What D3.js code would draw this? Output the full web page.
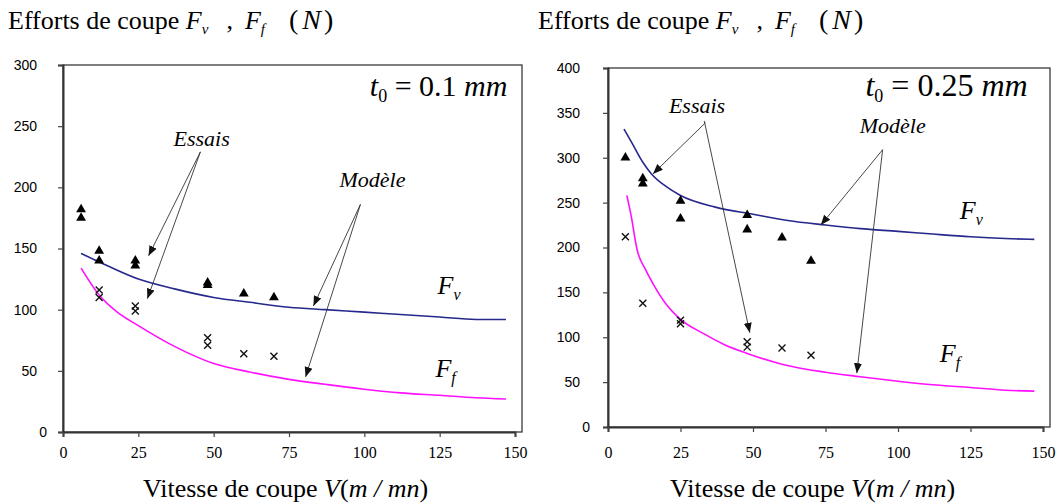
<!DOCTYPE html>
<html>
<head>
<meta charset="utf-8">
<script src="https://cdn.jsdelivr.net/npm/d3@7"></script>
<style>
body { margin: 0; background: #fff; }
svg text { font-family: "Liberation Serif", "Times New Roman", serif; fill: #000; }
</style>
</head>
<body>
<svg id="chart" width="1059" height="504"></svg>
<script>
// axes
var vTicks = [0, 25, 50, 75, 100, 125, 150];
var yTicks1 = [0, 50, 100, 150, 200, 250, 300];
var yTicks2 = [0, 50, 100, 150, 200, 250, 300, 350, 400];

// t0 = 0.1 mm : essais [V, F]
var fvEssais1 = [[6, 182], [6, 175], [12, 148], [12, 140], [24, 140], [24, 136], [48, 122], [48, 120], [60, 113], [70, 110]];
var ffEssais1 = [[12, 116], [12, 110], [24, 103], [24, 99], [48, 77], [48, 71], [60, 64], [70, 62]];
// t0 = 0.1 mm : modele
var fvModele1 = [[6, 146], [12, 139], [25, 125], [37, 117], [50, 110], [62, 106], [75, 102], [87, 100], [100, 98], [112, 96], [125, 94], [137, 92], [147, 92]];
var ffModele1 = [[6, 134], [12, 112], [18, 98], [25, 87], [37, 70], [50, 56], [62, 49], [75, 43], [87, 39], [100, 35], [112, 32], [125, 30], [137, 28], [147, 27]];

// t0 = 0.25 mm : essais
var fvEssais2 = [[6, 300], [12, 277], [12, 271], [25, 252], [25, 232], [48, 236], [48, 220], [60, 211], [70, 185]];
var ffEssais2 = [[6, 212], [12, 138], [25, 119], [25, 115], [48, 95], [48, 89], [60, 88], [70, 80]];
// t0 = 0.25 mm : modele
var fvModele2 = [[5.5, 332], [8, 318], [12, 295], [15, 282], [20, 268], [25, 258], [37, 245], [50, 237], [62, 230], [75, 225], [87, 221], [100, 218], [112, 215], [125, 212], [137, 210], [147, 209]];
var ffModele2 = [[6.5, 258], [8, 235], [10, 198], [13, 175], [16, 157], [20, 137], [25, 120], [33, 104], [40, 92], [48, 82], [60, 70], [75, 61], [87, 56], [100, 51], [112, 47], [125, 44], [137, 41], [147, 40]];

// annotations, in data units: [from V, from F, to V, to F]
var essaisArrows1 = [[45.6, 229, 28.4, 144], [45.6, 229, 28, 109]];
var modeleArrows1 = [[98.7, 186, 83.1, 103], [98.7, 186, 80.5, 45]];
var essaisArrows2 = [[33.6, 339, 15.5, 282], [33.2, 341, 48.9, 105]];
var modeleArrows2 = [[94.7, 309, 73.4, 225], [94.7, 309, 85.8, 60]];

var svg = d3.select('#chart');

svg.append('defs').append('marker')
    .attr('id', 'head')
    .attr('viewBox', '0 0 10 10')
    .attr('refX', 10).attr('refY', 5)
    .attr('markerWidth', 10).attr('markerHeight', 10)
    .attr('markerUnits', 'userSpaceOnUse')
    .attr('orient', 'auto')
    .append('path').attr('d', 'M0,1L10,5L0,9Z').attr('fill', '#111');

var panels = [
    {x0: 63, x1: 515, right: 522, y0: 432, y1: 65, yMax: 300, yTicks: yTicks1, ypad: 21, xpad: 9.6,
     fvE: fvEssais1, ffE: ffEssais1, fvM: fvModele1, ffM: ffModele1,
     eArr: essaisArrows1, mArr: modeleArrows1,
     essais: [46, 234], modele: [102.7, 200], t0: [147.5, 275], t0txt: '0.1', t0size: 30, fv: [124.3, 113], ff: [123.6, 45],
     titleX: 8, xTitleX: 143},
    {x0: 608, x1: 1043, right: 1050, y0: 427, y1: 68, yMax: 400, yTicks: yTicks2, ypad: 23, xpad: 14.6,
     fvE: fvEssais2, ffE: ffEssais2, fvM: fvModele2, ffM: ffModele2,
     eArr: essaisArrows2, mArr: modeleArrows2,
     essais: [30.7, 350], modele: [98.2, 328], t0: [144.7, 369], t0txt: '0.25', t0size: 32, fv: [121.3, 232], ff: [114.4, 72],
     titleX: 538, xTitleX: 670}
];

panels.forEach(function (p) {
    var x = d3.scaleLinear().domain([0, 150]).range([p.x0, p.x1]);
    var y = d3.scaleLinear().domain([0, p.yMax]).range([p.y0, p.y1]);
    var g = svg.append('g');

    // titre
    var t = g.append('text').attr('x', p.titleX).attr('y', 29).attr('font-size', 26);
    t.append('tspan').text('Efforts de coupe ');
    t.append('tspan').attr('font-style', 'italic').text('F');
    t.append('tspan').attr('font-style', 'italic').attr('font-size', 15).attr('dy', 5).text('v');
    t.append('tspan').attr('dy', -5).attr('dx', 18).text(',');
    t.append('tspan').attr('dx', 12).attr('font-style', 'italic').text('F');
    t.append('tspan').attr('font-style', 'italic').attr('font-size', 15).attr('dy', 5).text('f');
    t.append('tspan').attr('dy', -5).attr('dx', 24).attr('font-size', 28).text('(');
    t.append('tspan').attr('dx', 4).attr('font-style', 'italic').attr('font-size', 28).text('N');
    t.append('tspan').attr('dx', 3).attr('font-size', 28).text(')');

    // cadre
    g.append('rect')
        .attr('x', p.x0).attr('y', p.y1)
        .attr('width', p.right - p.x0).attr('height', p.y0 - p.y1)
        .attr('fill', 'none').attr('stroke', '#3a3a3a').attr('stroke-width', 1.3);

    // axes
    var ay = g.append('g').attr('transform', 'translate(' + p.x0 + ',0)')
        .call(d3.axisLeft(y).tickValues(p.yTicks).tickSize(5).tickPadding(p.ypad));
    ay.selectAll('text').style('font-family', '"Liberation Sans", Arial, sans-serif').attr('font-size', 14).attr('fill', '#222')
        .filter(function (d) { return d === 0; }).attr('dx', 10);
    var ax = g.append('g').attr('transform', 'translate(0,' + p.y0 + ')')
        .call(d3.axisBottom(x).tickValues(vTicks).tickSize(5).tickPadding(p.xpad));
    ax.selectAll('text').attr('font-size', 16).attr('fill', '#222');
    g.selectAll('.domain').attr('stroke', '#333').attr('stroke-width', 2);
    g.selectAll('.tick line').attr('stroke', '#444').attr('stroke-width', 1.2);

    // titre axe x
    var xt = g.append('text').attr('x', p.xTitleX).attr('y', 497).attr('font-size', 26);
    xt.append('tspan').text('Vitesse de coupe  ');
    xt.append('tspan').attr('font-style', 'italic').text('V');
    xt.append('tspan').text('(');
    xt.append('tspan').attr('font-style', 'italic').text('m / mn');
    xt.append('tspan').text(')');

    // courbes modele
    var line = d3.line().x(function (d) { return x(d[0]); }).y(function (d) { return y(d[1]); }).curve(d3.curveMonotoneX);
    g.append('path').datum(p.fvM).attr('d', line).attr('fill', 'none').attr('stroke', '#26288c').attr('stroke-width', 1.6);
    g.append('path').datum(p.ffM).attr('d', line).attr('fill', 'none').attr('stroke', '#ff10ff').attr('stroke-width', 1.6);

    // essais
    g.selectAll('path.tri').data(p.fvE).enter().append('path').attr('class', 'tri')
        .attr('d', d3.symbol().type(d3.symbolTriangle).size(42))
        .attr('transform', function (d) { return 'translate(' + x(d[0]) + ',' + y(d[1]) + ')'; })
        .attr('fill', '#000');
    g.selectAll('path.crx').data(p.ffE).enter().append('path').attr('class', 'crx')
        .attr('d', 'M-3.5,-3.5L3.5,3.5M3.5,-3.5L-3.5,3.5')
        .attr('transform', function (d) { return 'translate(' + x(d[0]) + ',' + y(d[1]) + ')'; })
        .attr('stroke', '#111').attr('stroke-width', 1.4).attr('fill', 'none');

    // fleches
    g.selectAll('line.arr').data(p.eArr.concat(p.mArr)).enter().append('line').attr('class', 'arr')
        .attr('x1', function (d) { return x(d[0]); }).attr('y1', function (d) { return y(d[1]); })
        .attr('x2', function (d) { return x(d[2]); }).attr('y2', function (d) { return y(d[3]); })
        .attr('stroke', '#333').attr('stroke-width', 0.9).attr('marker-end', 'url(#head)');

    // textes
    g.append('text').attr('x', x(p.essais[0])).attr('y', y(p.essais[1])).attr('text-anchor', 'middle')
        .attr('font-size', 22).attr('font-style', 'italic').text('Essais');
    g.append('text').attr('x', x(p.modele[0])).attr('y', y(p.modele[1])).attr('text-anchor', 'middle')
        .attr('font-size', 22).attr('font-style', 'italic').text('Modèle');

    var t0 = g.append('text').attr('x', x(p.t0[0])).attr('y', y(p.t0[1])).attr('text-anchor', 'end').attr('font-size', p.t0size);
    t0.append('tspan').attr('font-style', 'italic').text('t');
    t0.append('tspan').attr('font-size', 18).attr('dy', 6).text('0');
    t0.append('tspan').attr('dy', -6).text(' = ' + p.t0txt + '  ');
    t0.append('tspan').attr('font-style', 'italic').text('mm');

    [[p.fv, 'v'], [p.ff, 'f']].forEach(function (l) {
        var tl = g.append('text').attr('x', x(l[0][0])).attr('y', y(l[0][1])).attr('font-size', 26).attr('font-style', 'italic');
        tl.append('tspan').text('F');
        tl.append('tspan').attr('font-size', 16).attr('dy', 6).text(l[1]);
    });
});
</script>
</body>
</html>
